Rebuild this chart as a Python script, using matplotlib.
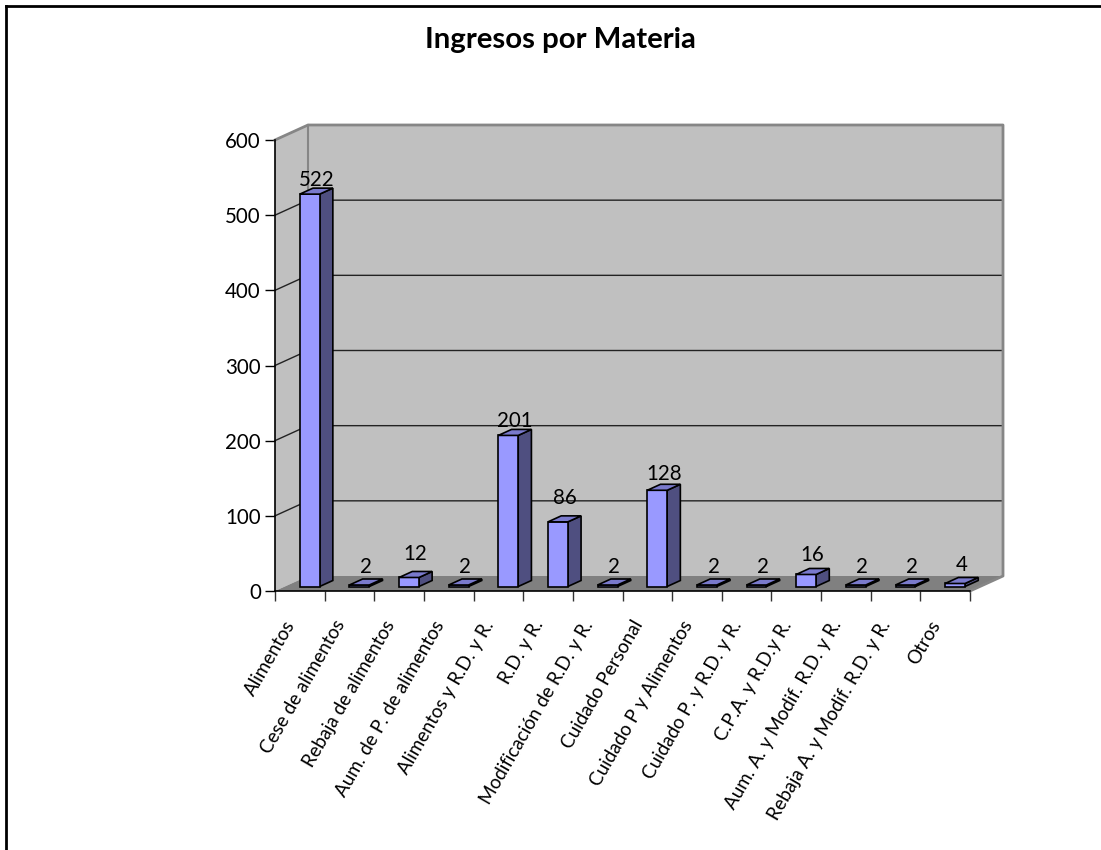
import matplotlib
matplotlib.use("Agg")
import matplotlib.pyplot as plt
from matplotlib.lines import Line2D
from matplotlib.patches import Polygon
from matplotlib.transforms import ScaledTranslation

plt.rcParams['font.family'] = ['Lato', 'DejaVu Sans']

# -----------------------------
# Data
# -----------------------------
title = "Ingresos por Materia"
categories = ["Alimentos", "Cese de alimentos", "Rebaja de alimentos",
              "Aum. de P. de alimentos", "Alimentos y R.D. y R.", "R.D. y R.",
              "Modificación de R.D. y R.", "Cuidado Personal",
              "Cuidado P y Alimentos", "Cuidado P. y R.D. y R.", "C.P.A. y R.D.y R.",
              "Aum. A. y Modif. R.D. y R.", "Rebaja A. y Modif. R.D. y R.", "Otros"]
values = [522, 2, 12, 2, 201, 86, 2, 128, 2, 2, 16, 2, 2, 4]
y_ticks = [0, 100, 200, 300, 400, 500, 600]

# -----------------------------
# Layout (pixels on a 1101x850 canvas)
# -----------------------------
W, H = 1101, 850
left, right, bottom, top = 275, 970, 591, 140
depth_px = (33, 15)
label_pad = [8, 12, 17, 12, 8, 18, 12, 10, 12, 12, 13, 12, 12, 12]

fig = plt.figure(figsize=(W / 100, H / 100), dpi=100)
ax = fig.add_axes([left / W, 1 - bottom / H, (right - left) / W, (bottom - top) / H])
n = len(categories)
ax.set_xlim(0, n)
ax.set_ylim(0, y_ticks[-1])

# depth of the box in data units
dx = depth_px[0] * n / (right - left)
dy = depth_px[1] * y_ticks[-1] / (bottom - top)
ymax = y_ticks[-1]

# -----------------------------
# Walls and floor
# -----------------------------
wall_c = "#C0C0C0"
wall_edge = "#868686"
ax.add_patch(Polygon([(0, 0), (dx, dy), (dx, ymax + dy), (0, ymax)], fc=wall_c, ec="none", clip_on=False, zorder=1))
ax.add_patch(Polygon([(dx, dy), (n + dx, dy), (n + dx, ymax + dy), (dx, ymax + dy)], fc=wall_c, ec="none", clip_on=False, zorder=1))
ax.add_patch(Polygon([(0, 0), (n, 0), (n + dx, dy), (dx, dy)], fc="#808080", ec="none", clip_on=False, zorder=1))

for t in y_ticks[1:-1]:
    ax.plot([0, dx, n + dx], [t, t + dy, t + dy], color="#222222", lw=1.0, clip_on=False, zorder=2)

# gray outline of the box
ax.plot([0, dx, n + dx, n + dx, n], [ymax, ymax + dy, ymax + dy, dy, 0], color=wall_edge, lw=2, clip_on=False, zorder=2)
ax.plot([dx, dx], [dy, ymax + dy], color=wall_edge, lw=1.5, clip_on=False, zorder=2)

# -----------------------------
# 3D bars
# -----------------------------
bar_w = 0.4
bar_d = 0.4
off_x = dx * (1 - bar_d) / 2
off_y = dy * (1 - bar_d) / 2
ddx, ddy = dx * bar_d, dy * bar_d
front_c, top_c, side_c = "#9999FF", "#7A7ACC", "#4F4F80"

for i, v in enumerate(values):
    x0 = i + 0.5 - bar_w / 2 + off_x
    x1 = x0 + bar_w
    y0 = off_y
    y1 = off_y + v
    z = 5 + i * 0.01
    ax.add_patch(Polygon([(x1, y0), (x1 + ddx, y0 + ddy), (x1 + ddx, y1 + ddy), (x1, y1)],
                         fc=side_c, ec="black", lw=1.2, clip_on=False, zorder=z))
    ax.add_patch(Polygon([(x0, y0), (x1, y0), (x1, y1), (x0, y1)],
                         fc=front_c, ec="black", lw=1.2, clip_on=False, zorder=z))
    # top last, so the flat bars still show their fill
    ax.add_patch(Polygon([(x0, y1), (x1, y1), (x1 + ddx, y1 + ddy), (x0 + ddx, y1 + ddy)],
                         fc=top_c, ec="black", lw=1.2, clip_on=False, zorder=z))
    ax.annotate(str(v), (i + 0.5 + dx / 2, y1 + ddy), xytext=(0, label_pad[i]), textcoords="offset pixels",
                ha="center", va="center", fontsize=14.8, color="black", zorder=10, annotation_clip=False)

# -----------------------------
# Axes
# -----------------------------
for side in ["top", "right"]:
    ax.spines[side].set_visible(False)
for side in ["left", "bottom"]:
    ax.spines[side].set_linewidth(1.2)
    ax.spines[side].set_zorder(3)
ax.patch.set_visible(False)

ax.set_yticks(y_ticks)
ax.tick_params(axis="y", length=7.2, width=1, labelsize=14.8, pad=3)
ax.set_xticks(range(n + 1))
ax.set_xticklabels([])
ax.tick_params(axis="x", which="major", length=7.2, width=1, color="#333333")
ax.set_xticks([i + 0.5 for i in range(n)], minor=True)
ax.set_xticklabels(categories, minor=True, rotation=60, ha="right", va="top",
                   rotation_mode="anchor", fontsize=13.6)
ax.tick_params(axis="x", which="minor", length=0, pad=19)
shift = ScaledTranslation(-16 / 100, 0, fig.dpi_scale_trans)
for lab in ax.get_xticklabels(minor=True):
    lab.set_transform(lab.get_transform() + shift)

# -----------------------------
# Title and frame
# -----------------------------
fig.text(560 / W, 1 - 40 / H, title, ha="center", va="center", fontsize=21.2, fontweight="bold")
fig.add_artist(Line2D([6 / W, 1], [1 - 6 / H, 1 - 6 / H], color="black", lw=2))
fig.add_artist(Line2D([6 / W, 6 / W], [0, 1 - 6 / H], color="black", lw=2))

fig.savefig("out.png", dpi=100)
